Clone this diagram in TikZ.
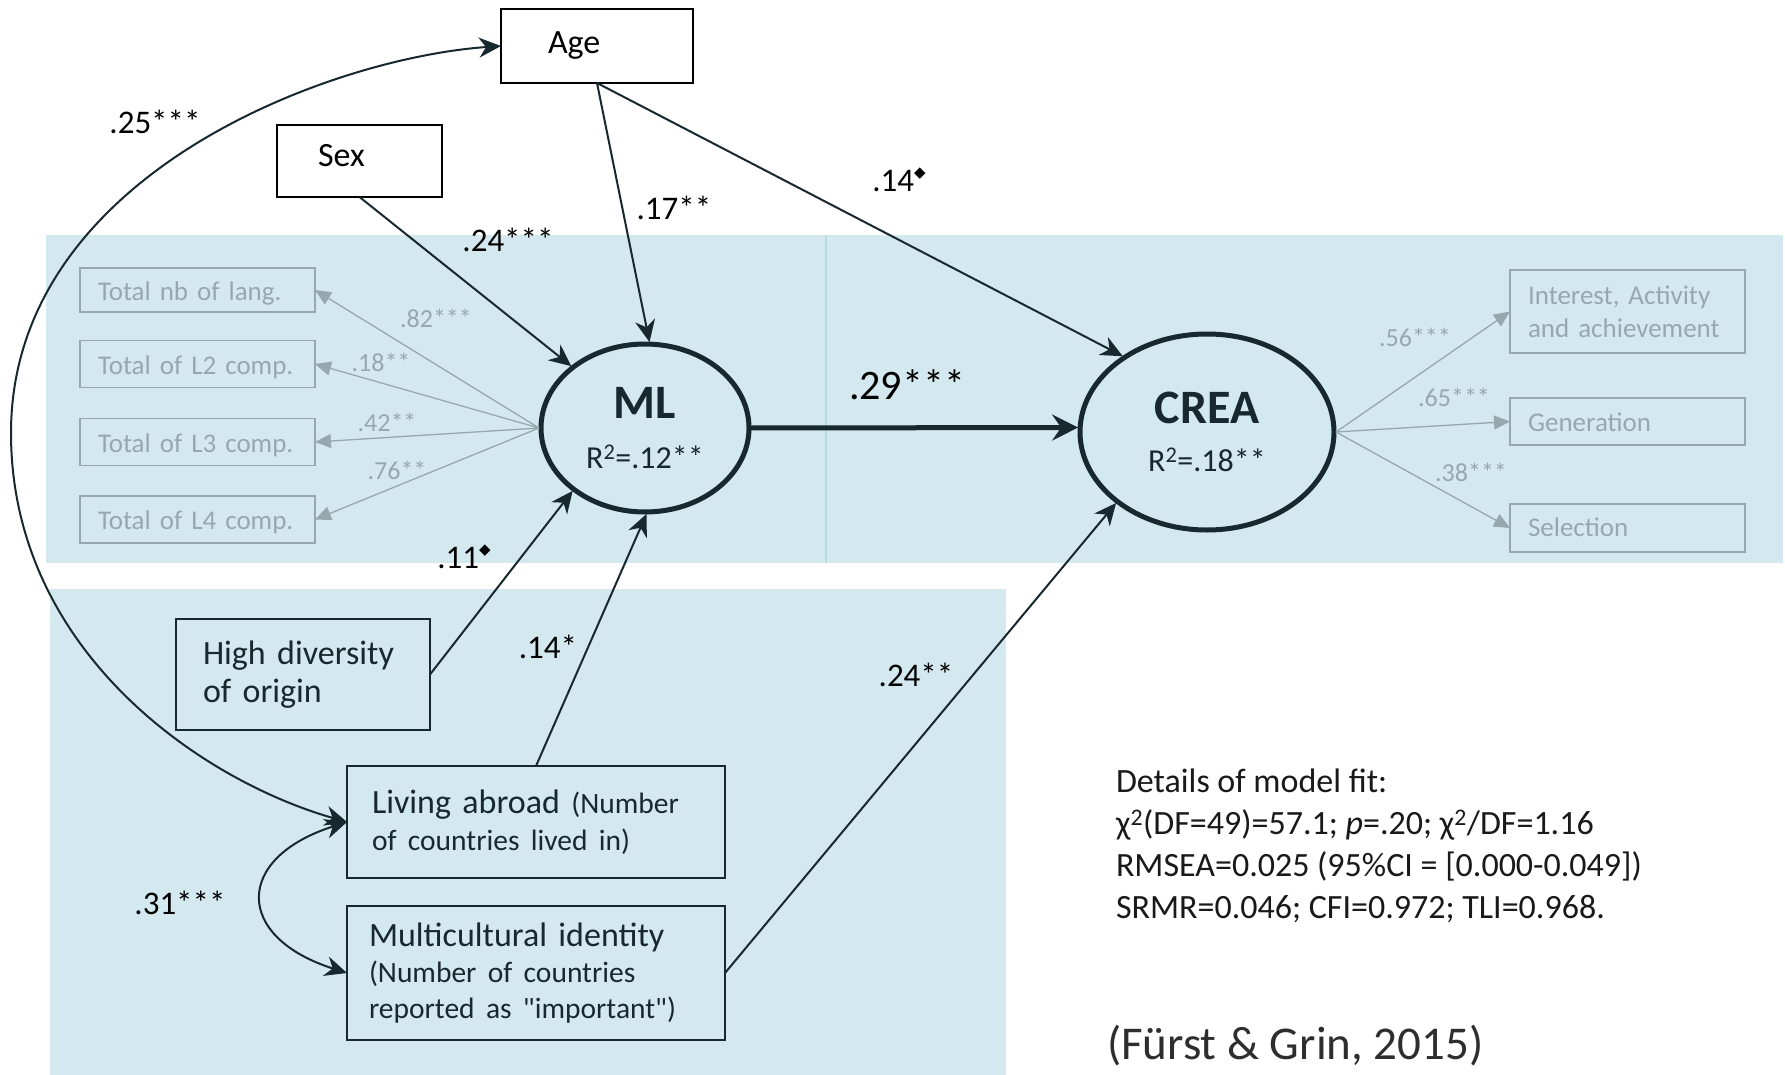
\documentclass[tikz,border=0pt]{standalone}
\usepackage{fontspec}
\setmainfont{Carlito}[Ligatures=TeXOff]
\newfontfamily\symfont{DejaVu Sans}
\usetikzlibrary{arrows.meta,shapes.geometric}
\definecolor{panel}{HTML}{D4E9EF}
\definecolor{divider}{HTML}{B5DBE5}
\definecolor{ink}{HTML}{17282E}
\definecolor{faded}{HTML}{95A8AE}
\newcommand{\sz}[2]{\fontsize{#1pt}{#2pt}\selectfont}
\newcommand{\dmd}{\raisebox{0.42em}{\symfont\fontsize{15pt}{15pt}\selectfont ◆}}
% lower a one-line label inside its box without changing the box size
\newcommand{\low}[2]{\raisebox{-#1}[20pt][7pt]{#2}}
\begin{document}
\begin{tikzpicture}[x=1pt,y=-1pt,
  every node/.style={inner sep=0pt, outer sep=0pt},
  whitebox/.style={draw=black, line width=2.5pt, fill=white, align=left, text=black, font=\sz{34}{40}},
  panelbox/.style={draw=ink, line width=2.5pt, align=left, text=ink, font=\sz{34}{38}},
  fadedbox/.style={draw=faded, line width=1.6pt, align=left, text=faded, font=\sz{27}{33}},
  latent/.style={ellipse, draw=ink, line width=5pt, outer sep=2pt, align=center, text=ink},
  effect/.style={draw=ink, line width=2pt, -{Stealth[length=22pt,width=20pt,inset=7pt]}},
  twoway/.style={draw=ink, line width=2pt, {Stealth[length=22pt,width=20pt,inset=7pt]}-{Stealth[length=22pt,width=20pt,inset=7pt]}},
  mainpath/.style={draw=ink, line width=5pt, -{Stealth[length=26pt,width=26pt,inset=9pt]}},
  loadarrow/.style={draw=faded, line width=1.3pt, -{Triangle[length=16pt,width=14pt]}},
  coef/.style={font=\sz{33}{36}, text=black},
  fadedcoef/.style={font=\sz{26}{30}, text=faded},
]
% canvas and shaded panels
\useasboundingbox (0,0) rectangle (1785,1075);
\fill[white] (0,0) rectangle (1785,1075);
\fill[panel] (46,235) rectangle (1783,563);
\fill[panel] (50,589) rectangle (1006,1075);
\draw[divider, line width=1.2pt] (826,235) -- (826,563);

% observed covariates
\node[whitebox, minimum width=192pt, minimum height=74pt, inner xsep=47pt, text width=98pt] (age) at (597,46) {Age};
\node[whitebox, minimum width=165pt, minimum height=72pt, inner xsep=41pt, text width=83pt] (sex) at (359.5,161) {\raisebox{12pt}{Sex}};
\node[panelbox, minimum width=254pt, minimum height=111pt, inner xsep=27pt, text width=200pt] (highdiv) at (303,674.5) {High diversity\\of origin};
\node[panelbox, minimum width=378pt, minimum height=112pt, inner xsep=25pt, text width=328pt, font=\sz{34}{37}] (living) at (536,822)
  {Living abroad {\sz{29.5}{37}(Number}\\{\sz{29.5}{37}of countries lived in)}};
\node[panelbox, minimum width=378pt, minimum height=134pt, inner xsep=22pt, text width=334pt, font=\sz{34}{36}] (multi) at (536,973)
  {Multicultural identity\\{\sz{29.5}{36}(Number of countries}\\{\sz{29.5}{34}reported as "important")}};

% latent variables
\node[latent, minimum width=208pt, minimum height=168pt, font=\sz{32}{50}] (ml) at (645,428)
  {{\sz{48}{50}\bfseries ML}\\R\textsuperscript{2}=.12**};
\node[latent, minimum width=254pt, minimum height=196pt, font=\sz{32}{48}] (crea) at (1207,432)
  {{\sz{48}{48}\bfseries CREA}\\R\textsuperscript{2}=.18**};

% indicators
\node[fadedbox, minimum width=235pt, minimum height=44pt, inner xsep=18pt, text width=199pt] (nb) at (197.5,290) {\low{3.5pt}{Total nb of lang.}};
\node[fadedbox, minimum width=235pt, minimum height=47pt, inner xsep=18pt, text width=199pt] (ltwo) at (197.5,364) {\low{3.5pt}{Total of L2 comp.}};
\node[fadedbox, minimum width=235pt, minimum height=47pt, inner xsep=18pt, text width=199pt] (lthree) at (197.5,442) {\low{3.5pt}{Total of L3 comp.}};
\node[fadedbox, minimum width=235pt, minimum height=47pt, inner xsep=18pt, text width=199pt] (lfour) at (197.5,519.5) {\low{3.5pt}{Total of L4 comp.}};
\node[fadedbox, minimum width=235pt, minimum height=83pt, inner xsep=18pt, text width=199pt] (interest) at (1627.5,311.5) {Interest, Activity\\and achievement};
\node[fadedbox, minimum width=235pt, minimum height=47pt, inner xsep=18pt, text width=199pt] (gen) at (1627.5,421.5) {\low{3.5pt}{Generation}};
\node[fadedbox, minimum width=235pt, minimum height=48pt, inner xsep=18pt, text width=199pt] (sel) at (1627.5,528) {\low{2pt}{Selection}};

% measurement paths
\draw[loadarrow] (ml.west) -- (nb.east);
\draw[loadarrow] (ml.west) -- (ltwo.east);
\draw[loadarrow] (ml.west) -- (lthree.east);
\draw[loadarrow] (ml.west) -- (lfour.east);
\draw[loadarrow] (crea.east) -- (interest.west);
\draw[loadarrow] (crea.east) -- (gen.west);
\draw[loadarrow] (crea.east) -- (sel.west);

% structural paths
\draw[effect] (age.south) -- (ml.87);
\draw[effect] (age.south) -- (crea.138);
\draw[effect] (sex.south) -- (ml.140);
\draw[effect] (highdiv.east) -- (ml.221);
\draw[effect] (living.north) -- (ml.271);
\draw[effect] (multi.east) -- (crea.218);
\draw[mainpath] (ml.east) -- (crea.178);

% covariances
\draw[twoway] (age.west) .. controls (330,58) and (11,175) .. (11,433)
  .. controls (11,650) and (200,780) .. (living.west);
\draw[twoway] (living.west) .. controls (234,858) and (234,937) .. (multi.west);

% coefficients
\node[coef] (c25) at (155,122) {.25***};
\node[coef] (c24a) at (508,240) {.24***};
\node[coef] (c17) at (674,208) {.17**};
\node[coef] (c14a) at (899,180) {.14\dmd};
\node[coef, font=\sz{42}{44}] (c29) at (907,385) {.29***};
\node[coef] (c11) at (464,557) {.11\dmd};
\node[coef] (c14b) at (548,647) {.14*};
\node[coef] (c24b) at (916,675) {.24**};
\node[coef] (c31) at (180,903) {.31***};
\node[fadedcoef] (l82) at (436,318) {.82***};
\node[fadedcoef] (l18) at (381,362) {.18**};
\node[fadedcoef] (l42) at (387,422) {.42**};
\node[fadedcoef] (l76) at (397,470) {.76**};
\node[fadedcoef] (l56) at (1415,337) {.56***};
\node[fadedcoef] (l65) at (1454,397) {.65***};
\node[fadedcoef] (l38) at (1471,472) {.38***};

% fit statistics and source
\node[anchor=north west, align=left, font=\sz{34}{41.8}, text=black!90] (fit) at (1116,769)
  {Details of model fit:\\
   χ\textsuperscript{2}(DF=49)=57.1; \textit{p}=.20; χ\textsuperscript{2}/DF=1.16\\
   RMSEA=0.025 (95\%CI = [0.000-0.049])\\
   SRMR=0.046; CFI=0.972; TLI=0.968.};
\node[anchor=west, font=\sz{47}{50}, text=black!82] (cite) at (1107,1046) {(Fürst \& Grin, 2015)};
\end{tikzpicture}
\end{document}
